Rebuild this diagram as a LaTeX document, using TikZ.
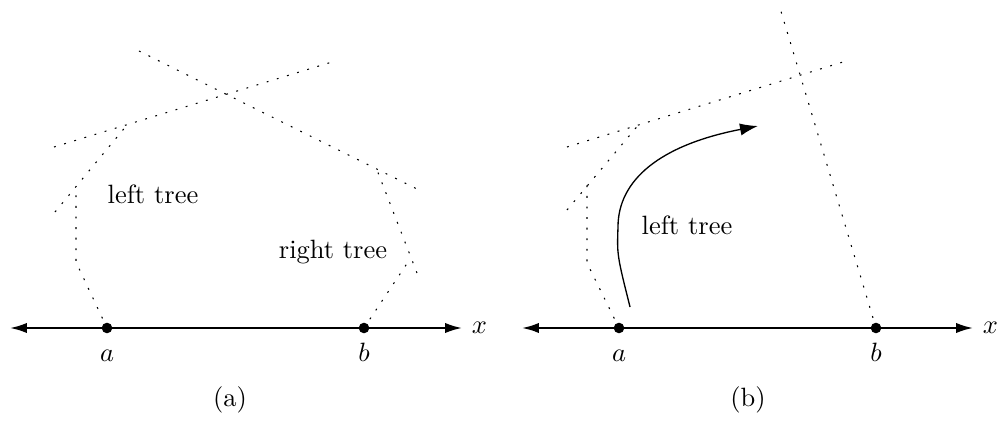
\documentclass[tikz,border=0pt]{standalone}
\usepackage{tikz}
\usetikzlibrary{
  arrows.meta,
  positioning
}
\tikzset{
  axis/.style={{Latex[length=6.4pt,width=3.9pt]}-{Latex[length=6.4pt,width=3.9pt]}, line width=0.8pt},
  guide/.style={dash pattern=on 0.7pt off 3.3pt, line width=0.4pt},
  pt/.style={circle, fill, inner sep=0pt, minimum size=4pt},
  ptlabel/.style={below=5.5pt, text height=7pt, inner sep=0pt},
  sweep/.style={-{Latex[length=6.8pt,width=4.6pt]}, line width=0.5pt}
}

\begin{document}
\begin{tikzpicture}[x=0.01328cm, y=-0.01328cm]
  \useasboundingbox (0,0) rectangle (1000,436);

  % (a)
  \coordinate (axLa) at (10,328);
  \coordinate (axRa) at (462,328);
  \draw[axis] (axLa) -- (axRa);
  \node[pt] (pa) at (107,328) {};
  \node[pt] (pb) at (364,328) {};
  \node[ptlabel] at (pa) {$a$};
  \node[ptlabel] at (pb) {$b$};
  \node[right=3.5pt of axRa, inner sep=0pt] {$x$};

  \draw[guide] (54,147) -- (332,62);
  \draw[guide] (139,51) -- (417,189);
  \draw[guide] (55,212) -- (127,125);
  \draw[guide] (pa.center) -- (76,262) -- (76,188);
  \draw[guide] (pb.center) -- (408,262);
  \draw[guide] (417,273) -- (377,170);

  \node (lefta) at (153,194) {left tree};
  \node (righta) at (333,252) {right tree};
  \node (capa) at (230,400) {(a)};

  % (b)
  \coordinate (axLb) at (522,328);
  \coordinate (axRb) at (973,328);
  \draw[axis] (axLb) -- (axRb);
  \node[pt] (qa) at (619,328) {};
  \node[pt] (qb) at (876,328) {};
  \node[ptlabel] at (qa) {$a$};
  \node[ptlabel] at (qb) {$b$};
  \node[right=3.5pt of axRb, inner sep=0pt] {$x$};

  \draw[guide] (567,147) -- (843,62);
  \draw[guide] (qb.center) -- (780,8);
  \draw[guide] (567,210) -- (640,123);
  \draw[guide] (qa.center) -- (587,263) -- (587,185);

  \coordinate (sweepstart) at (630,307);
  \coordinate (sweepend) at (758,126);
  \draw[sweep] (sweepstart) .. controls (617,255) .. (618,227)
    .. controls (618,180) and (660,145) .. (sweepend);

  \node (leftb) at (687,225) {left tree};
  \node (capb) at (748,400) {(b)};
\end{tikzpicture}
\end{document}
